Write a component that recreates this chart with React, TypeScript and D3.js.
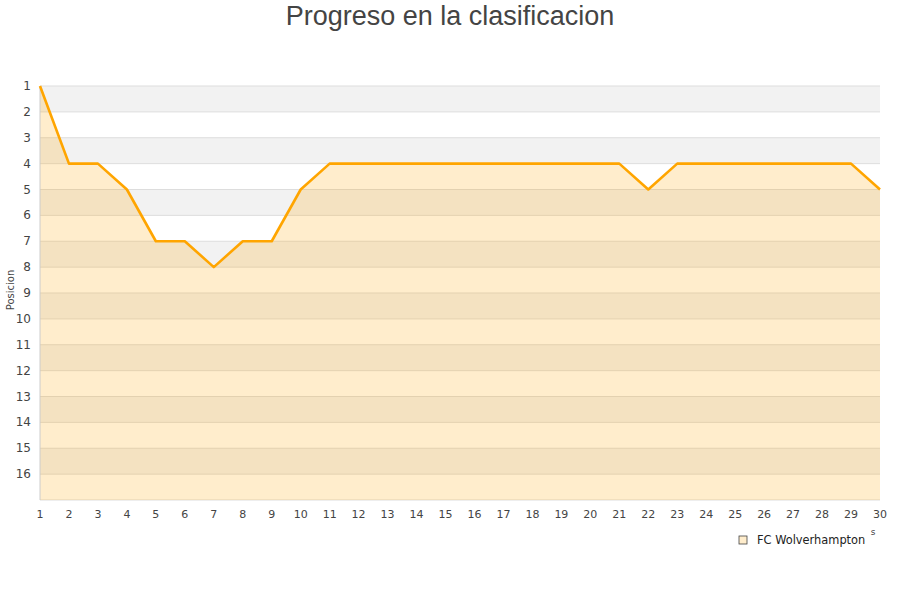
import React from "react";
import * as d3 from "d3";

const jornadas: number[] = Array.from({ length: 30 }, (_, i) => i + 1);
const posiciones: number[] = [1, 4, 4, 5, 7, 7, 8, 7, 7, 5, 4, 4, 4, 4, 4, 4, 4, 4, 4, 4, 4, 5, 4, 4, 4, 4, 4, 4, 4, 5];
const yTicks: number[] = Array.from({ length: 16 }, (_, i) => i + 1);
const teamName = "FC Wolverhampton";
const title = "Progreso en la clasificacion";
const yLabel = "Posicion";

export default function App() {
  const W = 900, H = 600;
  const left = 40, right = 880, top = 86, bottom = 500;
  const x = d3.scaleLinear().domain([1, 30]).range([left, right]);
  const y = d3.scaleLinear().domain([1, 17]).range([top, bottom]);
  const data = jornadas.map((j, i) => ({ j, p: posiciones[i] }));
  const line = d3.line<{ j: number; p: number }>().x(d => x(d.j)).y(d => y(d.p));
  const area = d3.area<{ j: number; p: number }>().x(d => x(d.j)).y0(bottom).y1(d => y(d.p));
  const bands = d3.range(1, 17);
  const font = "DejaVu Sans, sans-serif";
  return (
    <svg width={W} height={H} style={{ position: "absolute", left: 0, top: 0, background: "#fff" }}>
      <text x={450} y={25} textAnchor="middle" fontFamily="Liberation Sans, Arial, sans-serif" fontSize={27} fill="#444">{title}</text>
      {bands.map(b => (
        <rect key={b} x={left} y={y(b)} width={right - left} height={y(b + 1) - y(b)} fill={b % 2 === 1 ? "#f2f2f2" : "#ffffff"} />
      ))}
      {d3.range(1, 18).map(t => (
        <line key={t} x1={left} x2={right} y1={y(t)} y2={y(t)} stroke="#dddddd" strokeWidth={1} />
      ))}
      <path d={area(data) || ""} fill="rgba(255,165,0,0.2)" />
      <line x1={left} x2={left} y1={top} y2={bottom} stroke="#cccccc" strokeWidth={1} />
      <path d={line(data) || ""} fill="none" stroke="#ffa500" strokeWidth={2.6} strokeLinejoin="round" />
      {yTicks.map(t => (
        <text key={t} x={31} y={y(t) + 4} textAnchor="end" fontFamily={font} fontSize={12} fill="#444">{t}</text>
      ))}
      {jornadas.map(j => (
        <text key={j} x={x(j)} y={518} textAnchor="middle" fontFamily={font} fontSize={11} fill="#444">{j}</text>
      ))}
      <text transform={`translate(14,290) rotate(-90)`} textAnchor="middle" fontFamily={font} fontSize={10} fill="#444">{yLabel}</text>
      <text x={873} y={535} textAnchor="middle" fontFamily={font} fontSize={9} fill="#444">s</text>
      <rect x={739} y={536} width={8} height={8} fill="#ffedcc" stroke="#444" strokeWidth={0.8} />
      <text x={757} y={544} fontFamily={font} fontSize={11.4} fill="#222">{teamName}</text>
    </svg>
  );
}
